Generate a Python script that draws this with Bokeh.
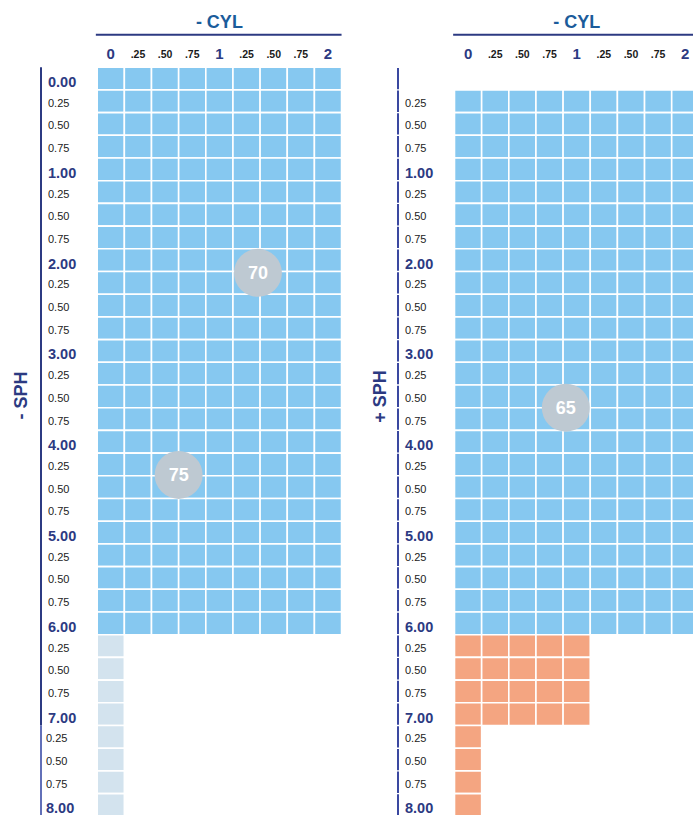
from bokeh.plotting import figure
from bokeh.models import Range1d, ColumnDataSource
from bokeh.core.properties import value
from bokeh.embed import file_html
from bokeh.resources import INLINE
import math

# ---------------- data ----------------
cyl_values = [0.00, 0.25, 0.50, 0.75, 1.00, 1.25, 1.50, 1.75, 2.00]
cyl_labels = ["0", ".25", ".50", ".75", "1", ".25", ".50", ".75", "2"]
sph_values = [0.00, 0.25, 0.50, 0.75, 1.00, 1.25, 1.50, 1.75, 2.00, 2.25, 2.50,
              2.75, 3.00, 3.25, 3.50, 3.75, 4.00, 4.25, 4.50, 4.75, 5.00, 5.25,
              5.50, 5.75, 6.00, 6.25, 6.50, 6.75, 7.00, 7.25, 7.50, 7.75, 8.00]

# zones: sph from / to, max cyl, colour
left_sph_from = [0.00, 6.25]
left_sph_to = [6.00, 8.00]
left_cyl_max = [2.00, 0.00]
left_colors = ["#86c8f0", "#d3e3ee"]

right_sph_from = [0.25, 6.25, 7.25]
right_sph_to = [6.00, 7.00, 8.00]
right_cyl_max = [2.00, 1.00, 0.00]
right_colors = ["#86c8f0", "#f4a581", "#f4a581"]

badge_text = ["70", "75", "65"]
badge_panel = ["left", "left", "right"]
badge_cyl = [1.355, 0.625, 0.90]
badge_sph = [2.14, 4.365, 3.625]

panel_titles = ["- CYL", "- CYL"]
sph_titles = ["- SPH", "+ SPH"]

# ---------------- layout ----------------
W, H = 693, 815
UX, UY = 27.15, 22.7
XS = -0.5 - 96.7 / UX
XE = XS + W / UX
YT = -0.5 - 66.7 / UY
YB = YT + H / UY
RIGHT_OFF = (454.0 - 96.7) / UX
STEP = 0.25

def px_x(page_x):
    return XS + page_x / UX

def px_y(page_y):
    return YT + page_y / UY

FONT = value("Liberation Sans")
NAVY = "#2c3a82"
TITLE_BLUE = "#1b5c9b"

p = figure(width=W, height=H, x_range=Range1d(XS, XE), y_range=Range1d(YB, YT),
           output_backend="svg", toolbar_location=None, min_border=0)
p.min_border_left = p.min_border_right = p.min_border_top = p.min_border_bottom = 0
p.axis.visible = False
p.grid.visible = False
p.outline_line_color = None
p.background_fill_color = "white"
p.border_fill_color = "white"

# cells
cx, cy, cc = [], [], []
for off, f, t, m, cols in [(0, left_sph_from, left_sph_to, left_cyl_max, left_colors),
                           (RIGHT_OFF, right_sph_from, right_sph_to, right_cyl_max, right_colors)]:
    for a, b, mx, col in zip(f, t, m, cols):
        for s in sph_values:
            if a <= s <= b:
                for c in cyl_values:
                    if c <= mx:
                        cx.append(off + c / STEP)
                        cy.append(s / STEP)
                        cc.append(col)
p.rect(x="x", y="y", width=1, height=1, fill_color="c", line_color="white", line_width=1.6,
       source=ColumnDataSource(dict(x=cx, y=cy, c=cc)))

# badges
bx = [(0 if pn == "left" else RIGHT_OFF) + c / STEP for pn, c in zip(badge_panel, badge_cyl)]
by = [s / STEP for s in badge_sph]
p.scatter(bx, by, size=48, fill_color="#bec9d2", line_color=None)
p.text(bx, by, text=badge_text, text_font=FONT, text_font_style="bold",
       text_font_size="18px", text_color="white", text_align="center", text_baseline="middle")

# column headers, titles, underline
for off, title in [(0, panel_titles[0]), (RIGHT_OFF, panel_titles[1])]:
    for c, lab in zip(cyl_values, cyl_labels):
        big = lab in ("0", "1", "2")
        p.text([off + c / STEP], [px_y(53.5)], text=[lab], text_font=FONT, text_font_style="bold",
               text_font_size="15px" if big else "10.5px",
               text_color=NAVY if big else "#1a1a1a", text_align="center", text_baseline="middle")
    xm = off + (cyl_values[-1] / STEP) / 2
    p.text([xm], [px_y(21)], text=[title], text_font=FONT, text_font_style="bold",
           text_font_size="18px", text_color=TITLE_BLUE, text_align="center", text_baseline="middle")
    p.segment([off - 0.55], [px_y(34.3)], [off + cyl_values[-1] / STEP + 0.5], [px_y(34.3)],
              line_color=NAVY, line_width=2)

# SPH axes
last_major = 7.00
p.segment([px_x(40.5)], [-0.5], [px_x(40.5)], [last_major / STEP + 0.5], line_color=NAVY, line_width=2)
p.segment([px_x(40.5)], [last_major / STEP + 0.5], [px_x(40.5)], [YB], line_color="#6270b8", line_width=2)
p.segment([px_x(397.5)] * len(sph_values), [s / STEP - 0.47 for s in sph_values],
          [px_x(397.5)] * len(sph_values), [s / STEP + 0.47 for s in sph_values],
          line_color="#3a48a0", line_width=2)

for panel, lx in [("left", 47.5), ("right", 404.5)]:
    for s in sph_values:
        if panel == "right" and s == 0:
            continue
        major = float(s).is_integer()
        x = px_x(lx)
        if panel == "left" and s > last_major:
            x = px_x(lx - 2)
        if major:
            p.text([x], [s / STEP + 3.5 / UY], text=[f"{s:.2f}"], text_font=FONT, text_font_style="bold",
                   text_font_size="14.5px", text_color=NAVY, text_align="left", text_baseline="middle")
        else:
            lab = f"{s - math.floor(s):.2f}"
            p.text([x], [s / STEP + 1.5 / UY], text=[lab], text_font=FONT,
                   text_font_size="11px", text_color="#222222", text_align="left", text_baseline="middle")

for lx, ly, t in [(20, 395, sph_titles[0]), (379, 396, sph_titles[1])]:
    p.text([px_x(lx)], [px_y(ly)], text=[t], angle=math.pi / 2, text_font=FONT, text_font_style="bold",
           text_font_size="18px", text_color=NAVY, text_align="center", text_baseline="middle")

open("out.html", "w").write(file_html(p, INLINE))
